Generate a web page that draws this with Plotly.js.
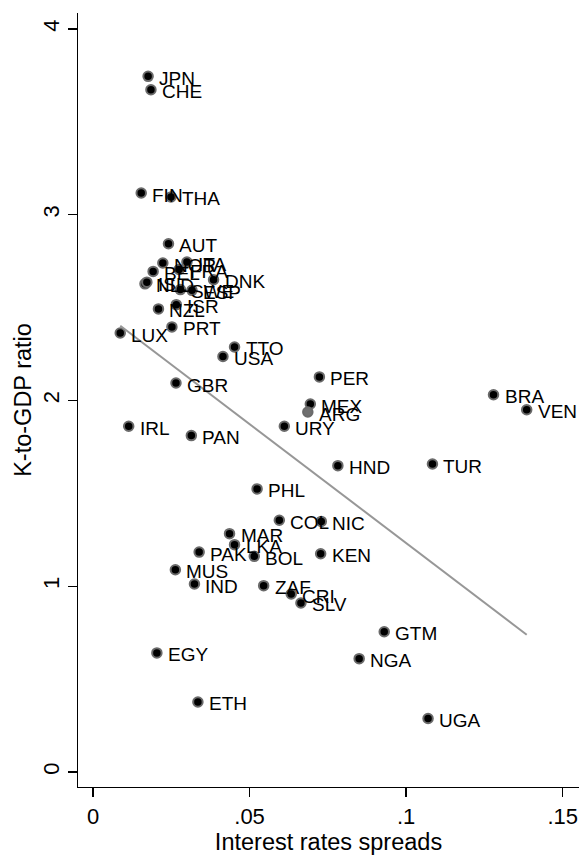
<!DOCTYPE html>
<html>
<head>
<meta charset="utf-8">
<script src="https://cdn.plot.ly/plotly-3.0.1.min.js"></script>
<style>
  html, body { margin: 0; padding: 0; background: #fff; }
  #chart { width: 584px; height: 856px; }
</style>
</head>
<body>
<div id="chart"></div>
<script>
// Country codes, interest rate spreads and capital-to-GDP ratios
const countries = [
  "JPN","CHE","FIN","THA","AUT","NOR","ITA","BEL","FRA","NLD","ISL","DNK","ESP","SWE",
  "ISR","NZL","PRT","LUX","TTO","USA","GBR","IRL","PAN","URY","PER","MEX","ARG","BRA",
  "VEN","HND","TUR","PHL","COL","NIC","MAR","LKA","PAK","BOL","KEN","MUS","IND","ZAF",
  "CRI","SLV","EGY","ETH","GTM","NGA","UGA"
];
const spreads = [
  0.0176,0.0185,0.0154,0.0249,0.0241,0.0223,0.0300,0.0192,0.0275,0.0166,0.0172,0.0385,0.0316,0.0279,
  0.0266,0.0209,0.0252,0.0087,0.0452,0.0415,0.0265,0.0114,0.0314,0.0611,0.0723,0.0694,0.0686,0.1279,
  0.1385,0.0782,0.1084,0.0524,0.0595,0.0729,0.0436,0.0452,0.0339,0.0515,0.0727,0.0263,0.0324,0.0545,
  0.0633,0.0664,0.0204,0.0335,0.0930,0.0850,0.1070
];
const kToGdp = [
  3.745,3.673,3.117,3.096,2.844,2.740,2.745,2.695,2.705,2.628,2.637,2.650,2.593,2.597,
  2.516,2.493,2.396,2.363,2.288,2.237,2.094,1.861,1.811,1.861,2.127,1.981,1.938,2.031,
  1.950,1.649,1.658,1.524,1.355,1.349,1.283,1.224,1.184,1.161,1.175,1.089,1.012,1.003,
  0.958,0.910,0.641,0.377,0.755,0.610,0.288
];
// Country drawn with a lighter marker
const lightCountry = "ARG";

// Least-squares fit of the ratio on the spread
function linearFit(xs, ys) {
  const n = xs.length;
  const mx = xs.reduce((a, b) => a + b, 0) / n;
  const my = ys.reduce((a, b) => a + b, 0) / n;
  let sxy = 0, sxx = 0;
  for (let i = 0; i < n; i++) {
    sxy += (xs[i] - mx) * (ys[i] - my);
    sxx += (xs[i] - mx) * (xs[i] - mx);
  }
  const b = sxy / sxx;
  return { a: my - b * mx, b: b };
}
const fit = linearFit(spreads, kToGdp);
const xMin = Math.min(...spreads), xMax = Math.max(...spreads);
const fitX = [xMin, xMax];
const fitY = fitX.map(x => fit.a + fit.b * x);

const fillColors = countries.map(c => c === lightCountry ? "#6f6f6f" : "#000000");

const FONT = "Arial, 'Liberation Sans', sans-serif";

const scatter = {
  type: "scatter",
  mode: "markers",
  x: spreads,
  y: kToGdp,
  marker: {
    size: 9.5,
    color: fillColors,
    line: { color: "#6a6a6a", width: 2 }
  },
  cliponaxis: false,
  hoverinfo: "skip",
  showlegend: false
};

const fitLine = {
  type: "scatter",
  mode: "lines",
  x: fitX,
  y: fitY,
  line: { color: "#979797", width: 2 },
  hoverinfo: "skip",
  showlegend: false
};

// Country code to the right of each marker
const labels = countries.map((c, i) => ({
  x: spreads[i],
  y: kToGdp[i],
  xref: "x",
  yref: "y",
  text: c,
  showarrow: false,
  xanchor: "left",
  yanchor: "middle",
  xshift: 9,
  yshift: -2,
  font: { family: FONT, size: 19, color: "#000" }
}));

const axisCommon = {
  showline: true,
  linecolor: "#000",
  linewidth: 1.3,
  ticks: "outside",
  ticklen: 9,
  tickwidth: 1.3,
  tickcolor: "#000",
  showgrid: false,
  zeroline: false,
  tickfont: { family: FONT, size: 22, color: "#000" }
};

const layout = {
  width: 584,
  height: 856,
  margin: { l: 78, r: 5, t: 13, b: 69 },
  paper_bgcolor: "#fff",
  plot_bgcolor: "#fff",
  font: { family: FONT, color: "#000" },
  annotations: labels,
  xaxis: Object.assign({}, axisCommon, {
    range: [-0.00479, 0.1552],
    tickmode: "array",
    tickvals: [0, 0.05, 0.1, 0.15],
    ticktext: ["0", ".05", ".1", ".15"],
    title: { text: "Interest rates spreads", font: { family: FONT, size: 23.5, color: "#000" }, standoff: 2 }
  }),
  yaxis: Object.assign({}, axisCommon, {
    range: [-0.0808, 4.086],
    tickmode: "array",
    tickvals: [0, 1, 2, 3, 4],
    ticktext: ["0", "1", "2", "3", "4"],
    tickangle: -90,
    title: { text: "K-to-GDP ratio", font: { family: FONT, size: 23.5, color: "#000" }, standoff: 0 }
  })
};

Plotly.newPlot("chart", [scatter, fitLine], layout, { staticPlot: true, displayModeBar: false });
</script>
</body>
</html>
